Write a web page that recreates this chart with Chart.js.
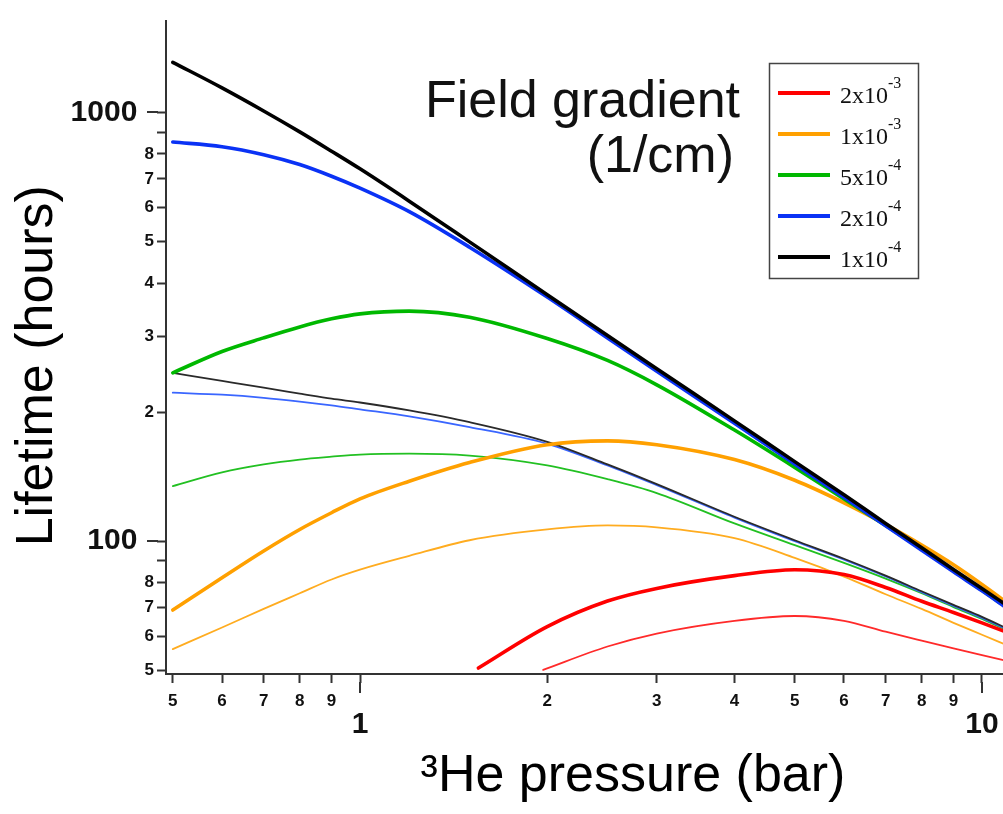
<!DOCTYPE html>
<html>
<head>
<meta charset="utf-8">
<title>Lifetime vs 3He pressure</title>
<script src="https://cdn.jsdelivr.net/npm/chart.js@4.4.1/dist/chart.umd.min.js"></script>
<style>
  html, body { margin: 0; padding: 0; background: #fff; overflow: hidden; }
  #wrap { width: 1100px; height: 814px; }
</style>
</head>
<body>
<div id="wrap"><canvas id="lifeChart" width="1100" height="814"></canvas></div>
<script>
// pressure (bar) where the curves were read
const pressure = [0.5, 0.6, 0.7, 0.8, 0.9, 1, 1.2, 1.5, 2, 2.5, 3, 4, 5, 6, 7, 8, 9, 10, 11];
const pressureRed = [1.55, 2, 2.5, 3, 4, 5, 6, 7, 8, 9, 10, 11];
const pressureRedThin = [1.97, 2.5, 3, 4, 5, 6, 7, 8, 9, 10, 11];

// field gradients (1/cm) for the legend
const gradients = [2e-3, 1e-3, 5e-4, 2e-4, 1e-4];

// lifetime (hours), upper (thick) family
const thick2e3 = [50.6, 63.2, 72.5, 77.6, 83.1, 85.8, 83.6, 78.0, 72.4, 68.2, 64.5, 61.2];
const thick1e3 = [69.1, 82.2, 94.9, 106.5, 116.5, 125.5, 138, 152.6, 167.9, 171.4, 167.9, 155, 138.7, 122.9, 109.4, 97.9, 88.1, 79.3, 71.7];
const thick5e4 = [247, 277, 298, 316, 330, 339, 344, 333, 297, 264, 231.6, 181.6, 148.6, 125.5, 108.8, 95.9, 85.3, 76.8, 69.8];
const thick2e4 = [853, 832, 797, 756, 710, 666, 587, 485, 371, 297.9, 249.2, 188.3, 151.3, 126.6, 108.6, 95.3, 84.8, 76.6, 69.6];
const thick1e4 = [1309, 1141, 1008, 901, 812, 738.6, 621, 499, 375.7, 301.8, 252.5, 190.8, 153.3, 128.3, 110, 96.5, 85.9, 77.6, 70.6];

// lifetime (hours), lower (thin) family
const thin2e3 = [50.1, 56.8, 60.9, 65.2, 66.9, 65.2, 61.5, 58.6, 56.2, 54.2, 52.5];
const thin1e3 = [56, 62.9, 69.5, 75.6, 81.4, 85.8, 92.4, 100.5, 106.5, 108.8, 107.7, 101.6, 91.4, 82.7, 75.2, 69.5, 64.5, 60.5, 57.1];
const thin5e4 = [134.4, 144.7, 151, 155, 157.4, 159.2, 160, 158.3, 150.2, 139.5, 129.5, 110, 97.9, 89, 81.8, 75.6, 70.2, 65.9, 61.8];
const thin2e4 = [222, 219.6, 216, 211.7, 207.4, 203, 195.5, 184.5, 168.7, 150.2, 135.1, 113.5, 100, 90.5, 82.7, 76, 70.6, 66.2, 62.2];
const thin1e4 = [247, 236.5, 228, 221, 215, 210.6, 201.8, 189.5, 170.5, 151, 135.9, 114, 100.5, 91, 83.1, 76.4, 71, 66.6, 62.5];

// tick values
const xTicks = [0.5, 0.6, 0.7, 0.8, 0.9, 1, 2, 3, 4, 5, 6, 7, 8, 9, 10];
const yTicks = [50, 60, 70, 80, 90, 100, 200, 300, 400, 500, 600, 700, 800, 900, 1000];

const thickColors = ['#ff0000', '#ffa000', '#00b800', '#0a32f5', '#000000'];
const thinColors = ['#ff2a2a', '#ffac20', '#22c022', '#3a66ff', '#2a2a2a'];

const thickSets = [
    [pressureRed, thick2e3], [pressure, thick1e3], [pressure, thick5e4], [pressure, thick2e4], [pressure, thick1e4]
];
const thinSets = [
    [pressureRedThin, thin2e3], [pressure, thin1e3], [pressure, thin5e4], [pressure, thin2e4], [pressure, thin1e4]
];

function points(xs, ys) {
    return xs.map((x, i) => ({ x: x, y: ys[i] }));
}

const datasets = [];
// thick black ends up drawn last (on top)
for (let i = 4; i >= 0; i--) {
    datasets.push({
        label: gradients[i].toExponential(),
        data: points(thickSets[i][0], thickSets[i][1]),
        borderColor: thickColors[i],
        borderWidth: 3.6
    });
}
for (let i = 4; i >= 0; i--) {
    datasets.push({
        label: gradients[i].toExponential() + ' (b)',
        data: points(thinSets[i][0], thinSets[i][1]),
        borderColor: thinColors[i],
        borderWidth: 1.8
    });
}

const isDecade = v => v === 1 || v === 10 || v === 100 || v === 1000;

// longer decade ticks, legend box and the legend heading
const extras = {
    id: 'extras',
    afterDraw(chart) {
        const { ctx, scales: { x, y } } = chart;
        ctx.save();
        ctx.strokeStyle = '#333';
        ctx.lineWidth = 2;
        ctx.beginPath();
        [1, 10].forEach(v => {
            const px = Math.round(x.getPixelForValue(v));
            ctx.moveTo(px, x.top + 8);
            ctx.lineTo(px, x.top + 19);
        });
        [100, 1000].forEach(v => {
            const py = Math.round(y.getPixelForValue(v));
            ctx.moveTo(y.right - 8, py);
            ctx.lineTo(y.right - 19, py);
        });
        ctx.stroke();

        // legend
        ctx.lineWidth = 1.5;
        ctx.strokeStyle = '#444';
        ctx.strokeRect(769.5, 63.5, 149, 215);
        gradients.forEach((g, i) => {
            const ly = 93 + i * 41;
            ctx.strokeStyle = thickColors[i];
            ctx.lineWidth = 4;
            ctx.beginPath();
            ctx.moveTo(778, ly);
            ctx.lineTo(830, ly);
            ctx.stroke();
            const [mant, exp] = g.toExponential().split('e');
            ctx.fillStyle = '#111';
            ctx.textAlign = 'left';
            ctx.textBaseline = 'alphabetic';
            ctx.font = '24px "Liberation Serif", "Times New Roman", serif';
            const base = mant + 'x10';
            ctx.fillText(base, 840, ly + 10);
            const w = ctx.measureText(base).width;
            ctx.font = '16px "Liberation Serif", "Times New Roman", serif';
            ctx.fillText(exp, 840 + w, ly - 5);
        });

        ctx.fillStyle = '#111';
        ctx.textAlign = 'right';
        ctx.font = '52px "Liberation Sans", Arial, sans-serif';
        ctx.fillText('Field gradient', 740, 117);
        ctx.fillText('(1/cm)', 734, 172);
        ctx.restore();
    }
};

Chart.defaults.font.family = '"Liberation Sans", Arial, sans-serif';
Chart.defaults.color = '#111';

new Chart(document.getElementById('lifeChart'), {
    type: 'line',
    data: { datasets: datasets },
    options: {
        responsive: false,
        animation: false,
        layout: { padding: { top: 10, right: 0, bottom: 0, left: 0 } },
        elements: {
            point: { radius: 0 },
            line: { cubicInterpolationMode: 'monotone', borderCapStyle: 'round' }
        },
        plugins: {
            legend: { display: false },
            tooltip: { enabled: false }
        },
        scales: {
            x: {
                type: 'logarithmic',
                min: 0.4876,
                max: 15.48,
                bounds: 'data',
                afterBuildTicks: s => { s.ticks = xTicks.map(v => ({ value: v })); },
                afterFit: s => { s.height = 140; },
                border: { display: true, color: '#333', width: 2 },
                grid: { drawOnChartArea: false, drawTicks: true, tickLength: 9, tickColor: '#333', tickWidth: 2 },
                ticks: {
                    autoSkip: false,
                    maxRotation: 0,
                    padding: 8,
                    color: '#111',
                    callback: v => v < 1 ? String(Math.round(v * 10)) : String(v),
                    font: c => isDecade(c.tick.value)
                        ? { size: 30, weight: 'bold', lineHeight: 2.27 }
                        : { size: 17, weight: 'bold' }
                },
                title: {
                    display: true,
                    text: '\u00B3He pressure (bar)',
                    color: '#000',
                    font: { size: 52 },
                    padding: { top: 0, bottom: 6 }
                }
            },
            y: {
                type: 'logarithmic',
                min: 49,
                max: 1634,
                bounds: 'data',
                afterBuildTicks: s => { s.ticks = yTicks.map(v => ({ value: v })); },
                afterFit: s => { s.width = 166; },
                border: { display: true, color: '#333', width: 2 },
                grid: { drawOnChartArea: false, drawTicks: true, tickLength: 9, tickColor: '#333', tickWidth: 2 },
                ticks: {
                    autoSkip: false,
                    padding: 3,
                    color: '#111',
                    callback: v => {
                        if (v === 100 || v === 1000) return v + '  ';
                        if (v === 90 || v === 900) return '';
                        return String(v >= 100 ? v / 100 : v / 10);
                    },
                    font: c => isDecade(c.tick.value)
                        ? { size: 30, weight: 'bold' }
                        : { size: 17, weight: 'bold' }
                },
                title: {
                    display: true,
                    text: 'Lifetime (hours)\u2002\u2009',
                    color: '#000',
                    font: { size: 52 },
                    padding: { top: 6, bottom: 0 }
                }
            }
        }
    },
    plugins: [extras]
});
</script>
</body>
</html>
